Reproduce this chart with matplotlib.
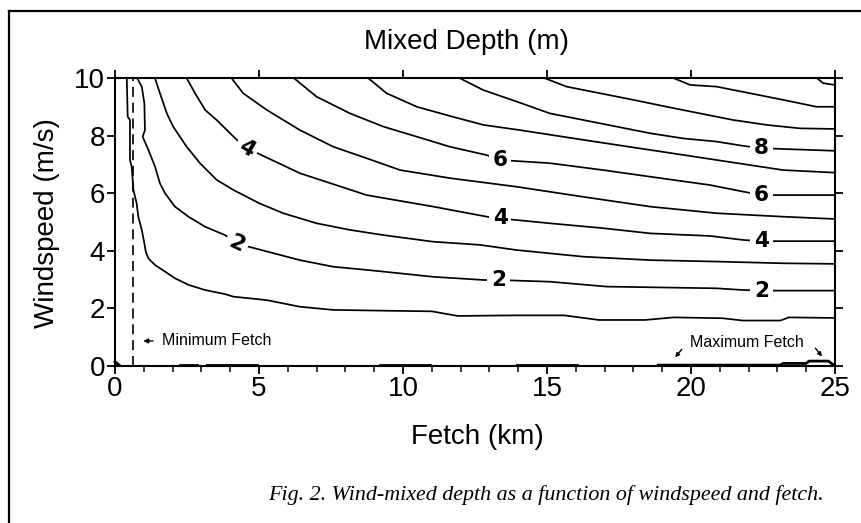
import matplotlib
matplotlib.use("Agg")
import matplotlib.pyplot as plt
from matplotlib.lines import Line2D

plt.rcParams['font.family'] = ['Liberation Sans', 'DejaVu Sans']

# ---------------- data ----------------
title = "Mixed Depth (m)"
xlabel = "Fetch (km)"
ylabel = "Windspeed (m/s)"
caption = "Fig. 2. Wind-mixed depth as a function of windspeed and fetch."
xticks = [0, 5, 10, 15, 20, 25]
yticks = [0, 2, 4, 6, 8, 10]

# contour lines: mixed depth (m) levels, fetch (km) vs windspeed (m/s)
fetch_1 = [0.41, 0.44, 0.52, 0.52, 0.58, 0.64, 0.75, 0.81, 0.93, 1.02, 1.07, 1.16, 1.39, 1.74,
           2.08, 2.55, 3.13, 3.82, 4.11, 5.27, 6.42, 7.57, 9.5, 11.0, 11.9, 13.9, 15.6, 16.8,
           18.4, 19.4, 21.1, 21.8, 23.1, 23.4, 25.0]
wind_1 = [10.0, 8.67, 8.55, 7.16, 6.93, 6.12, 5.66, 5.19, 4.73, 4.26, 3.97, 3.74, 3.51, 3.28,
          3.05, 2.82, 2.64, 2.50, 2.41, 2.29, 2.06, 1.95, 1.92, 1.90, 1.74, 1.76, 1.76, 1.60,
          1.60, 1.69, 1.66, 1.58, 1.58, 1.69, 1.67]
fetch_2 = [0.77, 0.93, 1.02, 1.04, 0.96, 1.16, 1.39, 1.56, 1.74, 2.08, 2.55, 3.13, 3.82, 4.23,
           4.63, 6.42, 7.58, 8.74, 9.90, 11.05, 12.79, 13.31, 15.10, 17.07, 20.89, 21.82, 22.45, 25.0]
wind_2 = [10.0, 9.71, 9.13, 8.20, 7.97, 7.51, 6.93, 6.35, 6.00, 5.54, 5.19, 4.84, 4.55, 4.26,
          4.15, 3.68, 3.45, 3.34, 3.22, 3.10, 2.99, 2.99, 2.93, 2.76, 2.70, 2.64, 2.62, 2.62]
fetch_3 = [1.39, 1.56, 1.80, 2.02, 2.49, 2.95, 3.53, 4.11, 5.0, 5.84, 7.00, 8.16, 9.32, 11.05,
           12.67, 13.95, 16.26, 18.58, 20.89, 23.2, 25.0]
wind_3 = [10.0, 9.48, 8.78, 8.32, 7.62, 7.05, 6.47, 6.12, 5.66, 5.31, 4.96, 4.73, 4.55, 4.32,
          4.21, 4.03, 3.80, 3.68, 3.63, 3.57, 3.55]
fetch_4 = [2.49, 2.78, 3.13, 3.53, 4.23, 4.57, 4.92, 6.42, 8.74, 11.05, 12.91, 13.37, 15.10,
           16.95, 18.58, 20.66, 21.82, 22.45, 25.0]
wind_4 = [10.0, 9.48, 8.90, 8.55, 7.86, 7.57, 7.41, 6.70, 5.94, 5.54, 5.19, 5.13, 4.96,
          4.79, 4.61, 4.52, 4.38, 4.34, 4.34]
fetch_5 = [4.05, 4.45, 5.27, 6.42, 7.58, 8.74, 9.90, 11.63, 13.95, 16.26, 18.58, 20.89, 23.2, 25.0]
wind_5 = [10.0, 9.48, 8.90, 8.20, 7.62, 7.22, 6.81, 6.53, 6.23, 5.88, 5.54, 5.31, 5.19, 5.11]
fetch_6 = [6.22, 7.00, 8.16, 9.32, 10.48, 11.63, 12.91, 13.37, 15.10, 16.95, 18.58, 20.66,
           21.82, 22.45, 25.0]
wind_6 = [10.0, 9.36, 8.78, 8.32, 7.97, 7.62, 7.33, 7.16, 7.05, 6.81, 6.58, 6.29, 6.06, 5.94, 5.94]
fetch_7 = [8.80, 9.43, 10.48, 11.63, 12.79, 14.06, 16.26, 18.58, 20.89, 23.2, 25.0]
wind_7 = [10.0, 9.48, 9.01, 8.69, 8.38, 8.20, 7.86, 7.51, 7.16, 6.81, 6.72]
fetch_8 = [11.98, 12.79, 13.95, 15.10, 16.26, 17.42, 18.58, 19.73, 20.89, 21.82, 22.45, 25.0]
wind_8 = [10.0, 9.59, 9.19, 8.78, 8.55, 8.32, 8.09, 7.91, 7.80, 7.65, 7.57, 7.48]
fetch_9 = [14.93, 15.68, 16.84, 18.0, 19.16, 20.31, 21.47, 22.63, 23.78, 25.0]
wind_9 = [10.0, 9.71, 9.48, 9.25, 9.01, 8.78, 8.55, 8.38, 8.26, 8.24]
fetch_10 = [19.41, 19.97, 20.89, 22.05, 23.20, 24.36, 25.0]
wind_10 = [10.0, 9.77, 9.71, 9.48, 9.25, 9.01, 9.01]
fetch_11 = [24.38, 24.59, 25.0]
wind_11 = [10.0, 9.83, 9.77]

# shallow contour pieces lying along the fetch axis
low_fetch = [[0.0, 0.15], [2.26, 2.84], [3.18, 4.92], [9.2, 10.94], [13.95, 16.03],
             [18.86, 23.09, 23.2, 24.0, 24.1, 24.77, 25.0]]
low_wind = [[0.15, 0.03], [0.03, 0.03], [0.03, 0.03], [0.03, 0.03], [0.03, 0.03],
            [0.03, 0.03, 0.09, 0.09, 0.17, 0.17, 0.0]]

# contour labels: text, fetch, windspeed, rotation
label_text = ["2", "2", "2", "4", "4", "4", "6", "6", "8"]
label_fetch = [4.23, 13.31, 22.45, 4.57, 13.37, 22.45, 13.37, 22.45, 22.45]
label_wind = [4.26, 2.99, 2.62, 7.57, 5.13, 4.34, 7.16, 5.94, 7.57]
label_rot = [-25, 0, 0, -30, 0, 0, 0, 0, 0]

min_fetch = 0.61

# ---------------- figure ----------------
W, H = 861, 523
fig = plt.figure(figsize=(W / 100, H / 100), dpi=100)
ax = fig.add_axes([115 / W, 1 - 366 / H, 720 / W, 287.7 / H])
ax.set_xlim(0, 25)
ax.set_ylim(0, 10)

lines_f = [fetch_1, fetch_2, fetch_3, fetch_4, fetch_5, fetch_6, fetch_7, fetch_8,
           fetch_9, fetch_10, fetch_11]
lines_w = [wind_1, wind_2, wind_3, wind_4, wind_5, wind_6, wind_7, wind_8,
           wind_9, wind_10, wind_11]
for fx, wy in zip(lines_f, lines_w):
    ax.plot(fx, wy, color='black', lw=1.25, clip_on=False, zorder=2,
            solid_joinstyle='round')
for fx, wy in zip(low_fetch, low_wind):
    ax.plot(fx, wy, color='black', lw=2.0, clip_on=False, zorder=2)

for t, fx, wy, r in zip(label_text, label_fetch, label_wind, label_rot):
    ax.text(fx, wy, t, fontsize=15.5, fontweight='bold', ha='center', va='center',
            rotation=r, zorder=4, family='DejaVu Sans',
            bbox=dict(boxstyle='square,pad=0.18', fc='white', ec='none'))

# minimum fetch dashed line
ax.plot([min_fetch, min_fetch], [0, 10], color='black', lw=1.2, ls=(0, (6, 3.5)), zorder=2)

ax.annotate("", xy=(0.98, 0.87), xytext=(1.32, 0.87),
            arrowprops=dict(arrowstyle='-|>', color='black', lw=1.0,
                            mutation_scale=7, shrinkA=0, shrinkB=0))
ax.text(1.62, 0.87, "Minimum Fetch", fontsize=11.5, ha='left', va='center')
ax.text(19.96, 0.80, "Maximum Fetch", fontsize=11.5, ha='left', va='center')
ax.annotate("", xy=(19.45, 0.30), xytext=(19.68, 0.58),
            arrowprops=dict(arrowstyle='-|>', color='black', lw=1.0,
                            mutation_scale=6, shrinkA=0, shrinkB=0))
ax.annotate("", xy=(24.55, 0.33), xytext=(24.32, 0.62),
            arrowprops=dict(arrowstyle='-|>', color='black', lw=1.0,
                            mutation_scale=6, shrinkA=0, shrinkB=0))

# axes styling
for s in ax.spines.values():
    s.set_linewidth(1.5)
ax.set_xticks(xticks)
ax.set_xticklabels([str(v) for v in xticks])
ax.set_xticks(list(range(0, 26)), minor=True)
ax.set_yticks(yticks)
ax.set_yticklabels([str(v) for v in yticks])
ax.tick_params(which='major', direction='out', length=6, width=1.3, labelsize=20,
               top=True, right=True, labeltop=False, labelright=False, pad=1)
ax.tick_params(axis='x', which='minor', direction='out', length=4, width=1.1,
               top=False, bottom=True)
ax.tick_params(axis='y', which='minor', left=False, right=False)

fig.text(466 / W, 1 - 42 / H, title, fontsize=20, ha='center', va='center')
fig.text(477 / W, 1 - 437 / H, xlabel, fontsize=20, ha='center', va='center')
fig.text(47 / W, 1 - 223 / H, ylabel, fontsize=20, ha='center', va='center', rotation=90)
fig.text(268 / W, 1 - 500 / H, caption, fontsize=15.8, ha='left', va='baseline',
         family='Liberation Serif', style='italic')

# figure frame (left and top edges visible)
fig.add_artist(Line2D([9 / W, 9 / W], [0, 1 - 11 / H], transform=fig.transFigure,
                      color='black', lw=1.6))
fig.add_artist(Line2D([9 / W, 1], [1 - 11 / H, 1 - 11 / H], transform=fig.transFigure,
                      color='black', lw=1.6))

fig.savefig("out.png", dpi=100, facecolor='white')
